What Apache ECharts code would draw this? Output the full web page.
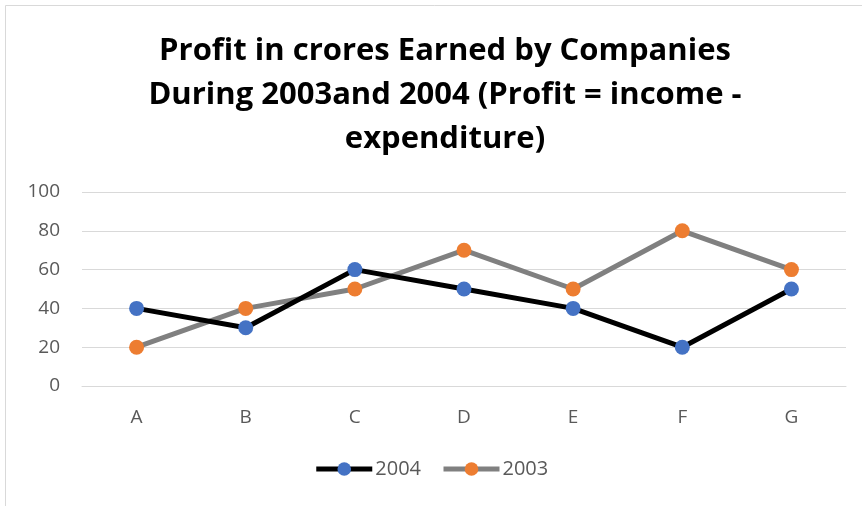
<!DOCTYPE html>
<html>
<head>
<meta charset="utf-8">
<script src="https://cdn.jsdelivr.net/npm/echarts@6/dist/echarts.min.js"></script>
<style>
  html, body { margin: 0; padding: 0; background: #fff; }
  #chartDom { width: 862px; height: 506px; }
</style>
</head>
<body>
<div id="chartDom"></div>
<script>
const categories = ['A', 'B', 'C', 'D', 'E', 'F', 'G'];
const profit2004 = [40, 30, 60, 50, 40, 20, 50];
const profit2003 = [20, 40, 50, 70, 50, 80, 60];
const yTicks = { min: 0, max: 100, interval: 20 };

const chart = echarts.init(document.getElementById('chartDom'));

const option = {
  backgroundColor: '#fff',
  title: {
    text: 'Profit in crores Earned by Companies\nDuring 2003and 2004 (Profit = income -\nexpenditure)',
    left: 440,
    textAlign: 'center',
    top: 24,
    textStyle: {
      fontFamily: 'Open Sans',
      fontWeight: 'bold',
      fontSize: 31,
      lineHeight: 44,
      color: '#000'
    }
  },
  graphic: [{
    type: 'rect',
    shape: { x: 5.5, y: 5.5, width: 1000, height: 1000 },
    style: { fill: 'none', stroke: '#d9d9d9', lineWidth: 1 },
    silent: true
  }],
  legend: {
    bottom: 22,
    left: 'center',
    itemWidth: 56,
    itemHeight: 17,
    itemGap: 20,
    textStyle: { fontFamily: 'Open Sans', fontSize: 20, color: '#595959', padding: [0, 0, 0, -2] },
    data: [
      { name: '2004', lineStyle: { width: 5 } },
      { name: '2003', lineStyle: { width: 5 } }
    ]
  },
  grid: { left: 82, right: 16, top: 192, bottom: 120 },
  xAxis: {
    type: 'category',
    data: categories,
    boundaryGap: true,
    axisLine: { show: true, lineStyle: { color: '#d9d9d9', width: 1 } },
    axisTick: { show: false },
    axisLabel: { fontFamily: 'Open Sans', fontSize: 19, color: '#595959', margin: 22 }
  },
  yAxis: {
    type: 'value',
    min: yTicks.min,
    max: yTicks.max,
    interval: yTicks.interval,
    axisLine: { show: false },
    axisTick: { show: false },
    splitLine: { lineStyle: { color: '#d9d9d9', width: 1 } },
    axisLabel: { fontFamily: 'Open Sans', fontSize: 19, color: '#595959', margin: 22 }
  },
  series: [
    {
      name: '2004',
      type: 'line',
      data: profit2004,
      symbol: 'circle',
      symbolSize: 15,
      lineStyle: { color: '#000', width: 5 },
      itemStyle: { color: '#4472C4' },
      z: 3
    },
    {
      name: '2003',
      type: 'line',
      data: profit2003,
      symbol: 'circle',
      symbolSize: 15,
      lineStyle: { color: '#808080', width: 5 },
      itemStyle: { color: '#ED7D31' },
      z: 2
    }
  ]
};

chart.setOption(option);
</script>
</body>
</html>
